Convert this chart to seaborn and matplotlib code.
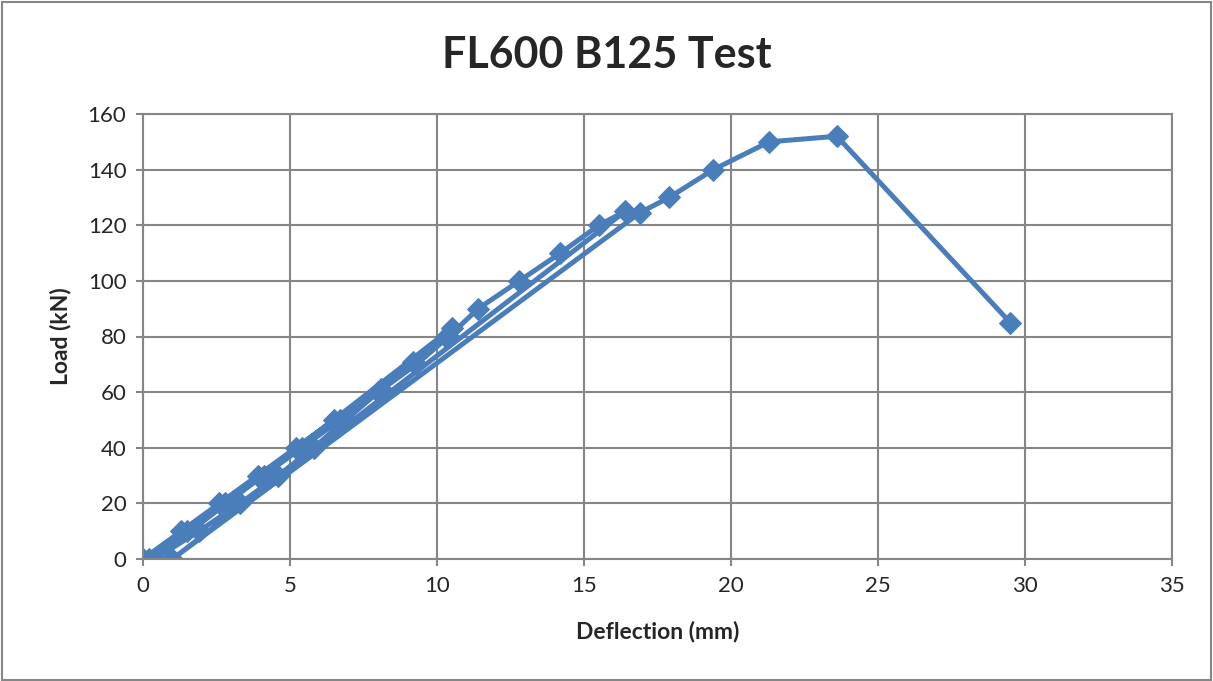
import pandas as pd
import matplotlib.pyplot as plt
import seaborn as sns
from matplotlib.patches import Rectangle

# load / unload cycles, in recorded order
deflection = [0.0, 1.3, 2.6, 3.9, 5.2, 6.5, 0.2,
              1.5, 2.8, 4.1, 5.4, 6.7, 8.1, 9.2, 10.3, 10.5, 0.4,
              1.9, 3.3, 4.6, 5.8, 6.9, 8.0, 9.3, 10.4, 11.4, 12.8, 14.2, 15.5, 16.4, 1.0,
              16.9, 17.9, 19.4, 21.3, 23.6, 29.5]
load = [0, 10, 20, 30, 40, 50, 0,
        10, 20, 30, 40, 50, 61, 71, 80, 83, 0,
        10, 20, 30, 40, 50, 60, 70, 80, 90, 100, 110, 120, 125, 0,
        124.5, 130, 140, 150, 152, 85]

df = pd.DataFrame({"Deflection (mm)": deflection, "Load (kN)": load})

sns.set_style("white")
plt.rcParams["font.family"] = ["Lato", "DejaVu Sans"]

fig = plt.figure(figsize=(12.13, 6.81), dpi=100)
ax = fig.add_axes([143 / 1213, 122 / 681, 1029 / 1213, 445 / 681])

sns.lineplot(data=df, x="Deflection (mm)", y="Load (kN)", sort=False, estimator=None,
             color="#4a7ebb", linewidth=3.6, marker="D", markersize=11,
             markeredgecolor="#4a7ebb", ax=ax)

ax.set_xlim(0, 35)
ax.set_ylim(0, 160)
ax.set_xticks(range(0, 36, 5))
ax.set_yticks(range(0, 161, 20))
ax.grid(True, color="#868686", linewidth=1.5)
ax.set_axisbelow(True)
for s in ax.spines.values():
    s.set_color("#868686")
    s.set_linewidth(1.5)
ax.tick_params(axis="both", which="both", length=5, width=1.5, color="#868686",
               direction="out", labelsize=16, pad=7)
ax.set_xlabel("Deflection (mm)", fontsize=16.5, fontweight="bold", labelpad=18)
ax.set_ylabel("Load (kN)", fontsize=16.5, fontweight="bold", labelpad=12)
ax.tick_params(bottom=True, left=True)

fig.text(0.5, 1 - 55 / 681, "FL600 B125 Test", ha="center", va="center",
         fontsize=31, fontweight="bold")
fig.patches.append(Rectangle((0.002, 0.002), 0.996, 0.995, transform=fig.transFigure,
                             fill=False, edgecolor="#868686", linewidth=1.5))

fig.savefig("out.png", dpi=100)
